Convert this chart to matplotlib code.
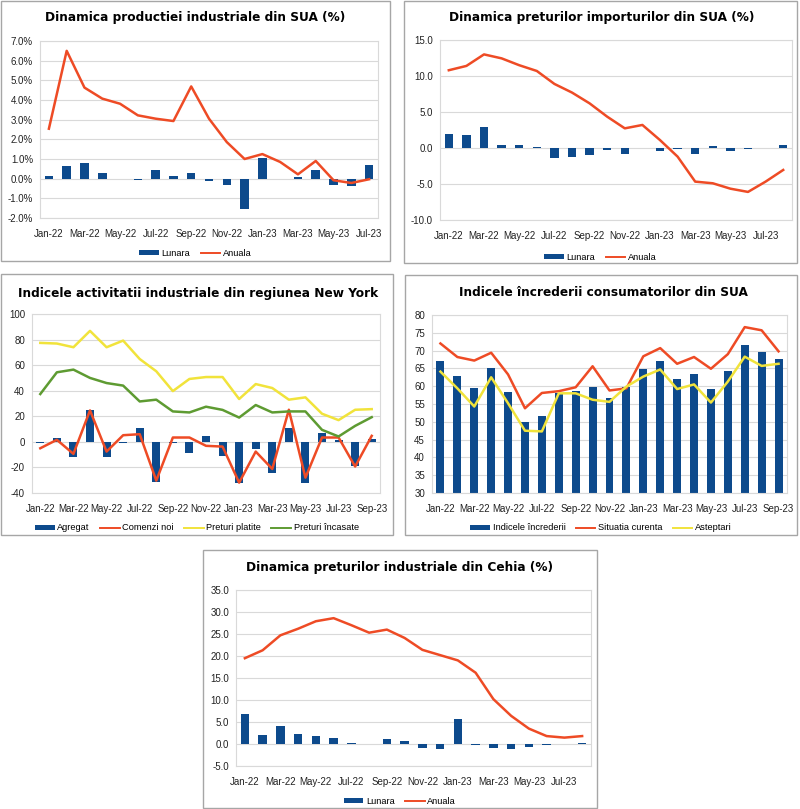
import numpy as np
import matplotlib
matplotlib.use('Agg')
import matplotlib.pyplot as plt
from matplotlib.patches import Rectangle, Patch
from matplotlib.lines import Line2D
from matplotlib.ticker import FormatStrFormatter

plt.rcParams['font.family'] = ['Liberation Sans', 'DejaVu Sans']

# luni (axa categoriilor)
luni = ['Jan-22', 'Feb-22', 'Mar-22', 'Apr-22', 'May-22', 'Jun-22', 'Jul-22',
        'Aug-22', 'Sep-22', 'Oct-22', 'Nov-22', 'Dec-22', 'Jan-23', 'Feb-23',
        'Mar-23', 'Apr-23', 'May-23', 'Jun-23', 'Jul-23', 'Aug-23', 'Sep-23']

# 1. productia industriala SUA (%), Jan-22 .. Jul-23
prod_lunara = [0.14, 0.64, 0.80, 0.30, -0.02, -0.07, 0.44, 0.12, 0.30, -0.10,
               -0.30, -1.53, 1.05, -0.02, 0.08, 0.46, -0.30, -0.39, 0.71]
prod_anuala = [2.54, 6.50, 4.63, 4.07, 3.81, 3.22, 3.05, 2.93, 4.69, 3.05,
               1.86, 1.00, 1.25, 0.85, 0.22, 0.90, -0.08, -0.22, -0.03]

# 2. preturile importurilor SUA (%), Jan-22 .. Aug-23
imp_lunara = [1.95, 1.75, 2.87, 0.46, 0.46, 0.20, -1.43, -1.20, -1.00, -0.30,
              -0.83, 0.05, -0.46, -0.15, -0.83, 0.23, -0.40, -0.20, 0.05, 0.46]
imp_anuala = [10.8, 11.4, 13.0, 12.45, 11.5, 10.7, 8.9, 7.7, 6.2, 4.35,
              2.73, 3.2, 1.1, -1.2, -4.67, -4.9, -5.65, -6.1, -4.67, -3.05]

# 3. Empire State (New York), Jan-22 .. Sep-23
ny_agregat = [-0.7, 3.0, -11.5, 24.6, -11.5, -1.2, 11.2, -31.3, -1.0, -9.0,
              4.5, -11.0, -32.4, -5.8, -24.6, 10.8, -31.8, 6.6, 1.1, -19.0, 1.9]
ny_comenzi = [-5.0, 1.6, -9.4, 24.6, -7.6, 5.2, 6.0, -30.3, 3.4, 3.4,
              -3.1, -3.7, -31.9, -7.6, -21.2, 25.1, -28.0, 3.4, 3.4, -19.3, 4.7]
ny_platite = [77.4, 76.9, 74.0, 86.8, 74.0, 79.2, 64.8, 55.2, 39.7, 49.2,
              50.7, 50.7, 33.5, 45.2, 42.1, 33.0, 34.8, 22.0, 17.0, 25.1, 25.6]
ny_incasate = [37.4, 54.4, 56.5, 50.0, 46.0, 44.0, 31.6, 33.0, 23.8, 23.0,
               27.5, 25.0, 19.0, 28.8, 23.0, 23.8, 23.8, 9.4, 4.2, 12.5, 19.3]

# 4. increderea consumatorilor SUA, Jan-22 .. Sep-23
incr_indice = [67.2, 62.8, 59.4, 65.2, 58.4, 50.0, 51.5, 58.2, 58.6, 59.9,
               56.8, 59.7, 64.9, 67.0, 62.0, 63.5, 59.2, 64.4, 71.6, 69.5, 67.7]
incr_curenta = [72.0, 68.2, 67.2, 69.4, 63.3, 53.8, 58.1, 58.6, 59.7, 65.6,
                58.8, 59.4, 68.4, 70.7, 66.3, 68.2, 64.9, 69.0, 76.6, 75.7, 69.8]
incr_asteptari = [64.1, 59.4, 54.3, 62.5, 55.2, 47.5, 47.3, 58.0, 58.0, 56.2,
                  55.6, 59.9, 62.7, 64.7, 59.2, 60.5, 55.4, 61.3, 68.3, 65.7, 66.3]

# 5. preturile industriale Cehia (%), Jan-22 .. Aug-23
cz_lunara = [6.9, 2.1, 4.2, 2.3, 1.9, 1.45, 0.3, 0.05, 1.2, 0.6,
             -0.9, -1.05, 5.75, -0.2, -0.9, -1.2, -0.75, -0.2, 0.05, 0.2]
cz_anuala = [19.5, 21.3, 24.7, 26.2, 27.9, 28.6, 27.0, 25.3, 26.0, 24.1,
             21.4, 20.2, 19.0, 16.2, 10.2, 6.4, 3.5, 1.8, 1.45, 1.8]

W, H = 800, 809
ALBASTRU = '#0d4a8c'
ROSU = '#ee4b25'
GALBEN = '#f1e33b'
VERDE = '#5e9b32'

fig = plt.figure(figsize=(W / 100, H / 100), dpi=100)


def px(x0, y0, x1, y1):
    return [x0 / W, 1 - y1 / H, (x1 - x0) / W, (y1 - y0) / H]


def cadru(x0, y0, x1, y1):
    fig.patches.append(Rectangle((x0 / W, 1 - y1 / H), (x1 - x0) / W, (y1 - y0) / H,
                                 transform=fig.transFigure, fill=False,
                                 edgecolor='#a6a6a6', linewidth=1.0))
    return (x0 + x1) / 2


def titlu(x, y, text):
    fig.text(x / W, 1 - y / H, text, ha='center', va='center', fontsize=9.7,
             fontweight='bold', fontstretch='condensed', family='DejaVu Sans')


def grafic(rect, n, ymin, ymax, pas, fmt):
    ax = fig.add_axes(px(*rect))
    ax.set_xlim(-0.5, n - 0.5)
    ax.set_ylim(ymin, ymax)
    ax.set_yticks(np.arange(ymin, ymax + pas / 2, pas))
    ax.yaxis.set_major_formatter(FormatStrFormatter(fmt))
    ax.set_xticks(range(0, n, 2))
    ax.set_xticklabels(luni[0:n:2])
    ax.grid(axis='y', color='#d9d9d9', linewidth=0.8)
    ax.set_axisbelow(True)
    for s in ax.spines.values():
        s.set_color('#d9d9d9')
        s.set_linewidth(0.8)
    ax.tick_params(length=0, labelsize=7, colors='#222222', pad=5)
    ax.tick_params(axis='x', pad=8)
    return ax


def legenda(handles, labels, xc, y):
    fig.legend(handles, labels, loc='center', bbox_to_anchor=(xc / W, 1 - y / H),
               ncol=len(labels), frameon=False, fontsize=6.7, handlelength=2.1,
               handleheight=0.5, columnspacing=1.1, handletextpad=0.3)


def linie(c):
    return Line2D([], [], color=c, lw=1.4)


bar_h = Patch(facecolor=ALBASTRU)

# ---- 1
xc = cadru(1, 1, 390, 261)
titlu(195, 18, 'Dinamica productiei industriale din SUA (%)')
ax1 = grafic((40, 41, 378, 218), len(prod_lunara), -2, 7, 1, '%.1f%%')
x = np.arange(len(prod_lunara))
ax1.bar(x, prod_lunara, width=0.48, color=ALBASTRU)
ax1.plot(x, prod_anuala, color=ROSU, linewidth=1.8)
legenda([bar_h, linie(ROSU)], ['Lunara', 'Anuala'], xc, 253)

# ---- 2
xc = cadru(404, 1, 797, 263)
titlu(602, 18, 'Dinamica preturilor importurilor din SUA (%)')
ax2 = grafic((440, 40, 792, 220), len(imp_lunara), -10, 15, 5, '%.1f')
x = np.arange(len(imp_lunara))
ax2.bar(x, imp_lunara, width=0.48, color=ALBASTRU)
ax2.plot(x, imp_anuala, color=ROSU, linewidth=1.8)
legenda([bar_h, linie(ROSU)], ['Lunara', 'Anuala'], xc, 257)

# ---- 3
xc = cadru(1, 274, 393, 535)
titlu(198, 293, 'Indicele activitatii industriale din regiunea New York')
ax3 = grafic((32, 314, 380, 493), len(ny_agregat), -40, 100, 20, '%d')
x = np.arange(len(ny_agregat))
ax3.bar(x, ny_agregat, width=0.48, color=ALBASTRU)
ax3.plot(x, ny_comenzi, color=ROSU, linewidth=1.8)
ax3.plot(x, ny_platite, color=GALBEN, linewidth=1.8)
ax3.plot(x, ny_incasate, color=VERDE, linewidth=1.8)
legenda([bar_h, linie(ROSU), linie(GALBEN), linie(VERDE)],
        ['Agregat', 'Comenzi noi', 'Preturi platite', 'Preturi încasate'], xc, 528)

# ---- 4
xc = cadru(405, 275, 797, 535)
titlu(603, 293, 'Indicele încrederii consumatorilor din SUA')
ax4 = grafic((432, 315, 787, 493), len(incr_indice), 30, 80, 5, '%d')
x = np.arange(len(incr_indice))
ax4.bar(x, incr_indice, width=0.47, color=ALBASTRU)
ax4.plot(x, incr_curenta, color=ROSU, linewidth=1.8)
ax4.plot(x, incr_asteptari, color=GALBEN, linewidth=1.8)
legenda([bar_h, linie(ROSU), linie(GALBEN)],
        ['Indicele încrederii', 'Situatia curenta', 'Asteptari'], xc, 528)

# ---- 5
xc = cadru(203, 550, 597, 808)
titlu(400, 568, 'Dinamica preturilor industriale din Cehia (%)')
ax5 = grafic((236, 590, 591, 766), len(cz_lunara), -5, 35, 5, '%.1f')
x = np.arange(len(cz_lunara))
ax5.bar(x, cz_lunara, width=0.48, color=ALBASTRU)
ax5.plot(x, cz_anuala, color=ROSU, linewidth=1.8)
legenda([bar_h, linie(ROSU)], ['Lunara', 'Anuala'], xc, 801)

fig.savefig('out.png', dpi=100)
